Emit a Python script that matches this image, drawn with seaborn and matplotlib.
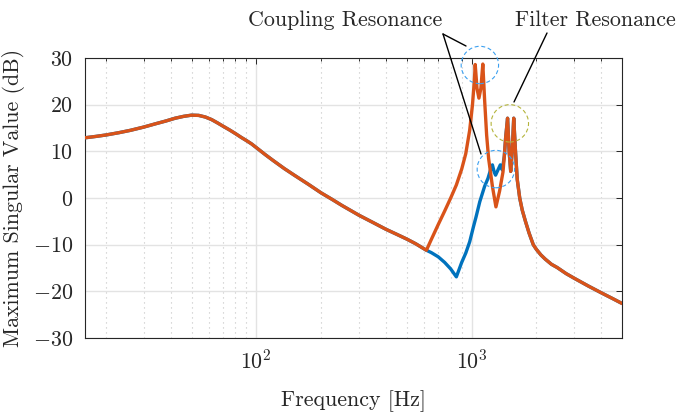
import numpy as np
import pandas as pd
import matplotlib
matplotlib.use("Agg")
import matplotlib.pyplot as plt
import matplotlib.transforms as mtransforms
from matplotlib.patches import Circle
from matplotlib.lines import Line2D
from matplotlib.ticker import FuncFormatter, FixedLocator, LogLocator, NullFormatter
import seaborn as sns

# ---------------- data ----------------
# part shared by both curves (Hz, dB)
freq_shared = [16, 18, 20, 23, 26, 30, 34, 38, 42, 46, 50, 54, 58, 62, 66, 70,
               75, 80, 85, 90, 95, 100, 110, 120, 135, 150, 175, 200, 225, 250,
               300, 350, 400, 450, 500, 550, 617]
db_shared = [12.9, 13.2, 13.5, 14.0, 14.5, 15.2, 15.9, 16.5, 17.1, 17.5, 17.75,
             17.7, 17.35, 16.8, 16.1, 15.4, 14.6, 13.8, 13.0, 12.3, 11.6, 10.8,
             9.3, 8.0, 6.3, 4.9, 2.9, 1.1, -0.3, -1.6, -3.7, -5.3, -6.7, -7.8,
             -8.8, -9.8, -11.2]

# orange curve beyond the split
freq_orange_tail = [650, 700, 750, 800, 850, 900, 940, 980, 1010, 1030, 1040,
                    1060, 1082, 1105, 1128, 1150, 1175, 1200, 1250, 1298, 1350,
                    1400, 1420, 1440, 1470, 1495, 1520, 1545, 1570, 1600, 1630,
                    1674, 1720, 1780, 1850, 1935, 2000, 2100, 2200, 2350, 2500,
                    2750, 3000, 3500, 4000, 4500, 5000]
db_orange_tail = [-8.9, -5.7, -2.8, 0.0, 2.8, 6.2, 9.5, 14.5, 20.0, 25.0, 28.6,
                  23.5, 21.4, 23.5, 28.7, 21.0, 13.5, 8.5, 2.5, -1.9, 1.5,
                  5.6, 9.0, 12.9, 17.1, 10.0, 5.7, 10.0, 17.1, 10.0, 4.0,
                  0.0, -2.6, -5.0, -7.5, -10.0, -11.0, -12.2, -13.1, -14.2, -14.9,
                  -16.2, -17.2, -18.9, -20.3, -21.5, -22.6]

# blue curve beyond the split (joins the orange one at 1420 Hz)
freq_blue_tail = [650, 700, 750, 800, 850, 900, 940, 980, 1020, 1050, 1092, 1150,
                  1192, 1230, 1250, 1275, 1293, 1320, 1360, 1390]
db_blue_tail = [-11.7, -12.6, -13.8, -15.2, -16.9, -13.8, -11.8, -9.4, -6.2, -4.0,
                -0.8, 2.5, 4.2, 6.3, 7.1, 5.5, 4.9, 5.8, 7.1, 6.0]

series_names = ["blue", "orange"]
series_colors = ["#0072BD", "#D95319"]

xticks = [100, 1000]
xtick_labels = [r"$10^{2}$", r"$10^{3}$"]
yticks = [-30, -20, -10, 0, 10, 20, 30]

# ---------------- build table ----------------
join = freq_orange_tail.index(1420)
freq_blue = freq_shared + freq_blue_tail + freq_orange_tail[join:]
db_blue = db_shared + db_blue_tail + db_orange_tail[join:]
freq_orange = freq_shared + freq_orange_tail
db_orange = db_shared + db_orange_tail

df = pd.concat([
    pd.DataFrame({"freq": freq_blue, "db": db_blue, "series": series_names[0]}),
    pd.DataFrame({"freq": freq_orange, "db": db_orange, "series": series_names[1]}),
], ignore_index=True)

# ---------------- style ----------------
sns.set_style("white")
plt.rcParams["font.family"] = ["cmr10"]
plt.rcParams["mathtext.fontset"] = "cm"
plt.rcParams["axes.unicode_minus"] = False
plt.rcParams["axes.formatter.use_mathtext"] = True

FS = 15.8
W, H = 678, 413
fig = plt.figure(figsize=(W / 100, H / 100), dpi=100)
ax = fig.add_axes([85 / W, 1 - 338 / H, 537 / W, 280 / H])

sns.lineplot(data=df, x="freq", y="db", hue="series", hue_order=series_names,
             palette=series_colors, estimator=None, sort=False, linewidth=2.4,
             legend=False, ax=ax, zorder=3)

ax.set_xscale("log")
ax.set_xlim(16, 5000)
ax.set_ylim(-30, 30)

ax.xaxis.set_major_locator(FixedLocator(xticks))
ax.set_xticklabels(xtick_labels)
ax.xaxis.set_minor_locator(LogLocator(base=10, subs=np.arange(2, 10)))
ax.xaxis.set_minor_formatter(NullFormatter())
ax.set_yticks(yticks)
ax.yaxis.set_major_formatter(FuncFormatter(lambda v, p: r"$%d$" % v))

ax.grid(True, which="major", color="#e3e3e3", linewidth=1.0, linestyle="-", zorder=0)
ax.grid(True, which="minor", axis="x", color="#c4c4c4", linewidth=0.8,
        linestyle=(0, (1, 3.5)), zorder=0)
ax.set_axisbelow(True)

for s in ax.spines.values():
    s.set_color("#262626")
    s.set_linewidth(0.8)
ax.tick_params(which="both", direction="in", top=True, right=True,
               color="#262626", width=0.7)
ax.tick_params(which="major", length=4.0, labelsize=FS)
ax.tick_params(which="minor", length=2.2)
ax.tick_params(axis="y", pad=8.5)
ax.tick_params(axis="x", pad=7.5)

ax.set_xlabel("Frequency [Hz]", fontsize=FS, labelpad=13)
ax.set_ylabel("Maximum Singular Value (dB)", fontsize=FS, labelpad=6)

# ---------------- annotations ----------------
circle_specs = [  # (freq, dB, colour)
    (1093, 28.5, "#3ca0f0"),
    (1297, 6.2, "#3ca0f0"),
    (1506, 16.0, "#b4b43c"),
]
for cx, cy, col in circle_specs:
    tr = fig.dpi_scale_trans + mtransforms.ScaledTranslation(cx, cy, ax.transData)
    c = Circle((0, 0), radius=0.187, transform=tr, fill=False, edgecolor=col,
               linewidth=0.8, linestyle=(0, (3.6, 2.4)), zorder=4, clip_on=False)
    ax.add_artist(c)

def px(x, y):
    return x / W, 1 - y / H

line_specs = [
    ((443, 34), (466, 46)),
    ((443, 34), (481, 154)),
    ((547, 33), (514, 102)),
]
for (x0, y0), (x1, y1) in line_specs:
    a0, b0 = px(x0, y0)
    a1, b1 = px(x1, y1)
    fig.add_artist(Line2D([a0, a1], [b0, b1], transform=fig.transFigure,
                          color="black", linewidth=1.0, zorder=5))

fig.text(*px(345, 26.5), "Coupling Resonance", ha="center", va="baseline", fontsize=FS)
fig.text(*px(595, 26.5), "Filter Resonance", ha="center", va="baseline", fontsize=FS)

fig.savefig("out.png", dpi=100)
